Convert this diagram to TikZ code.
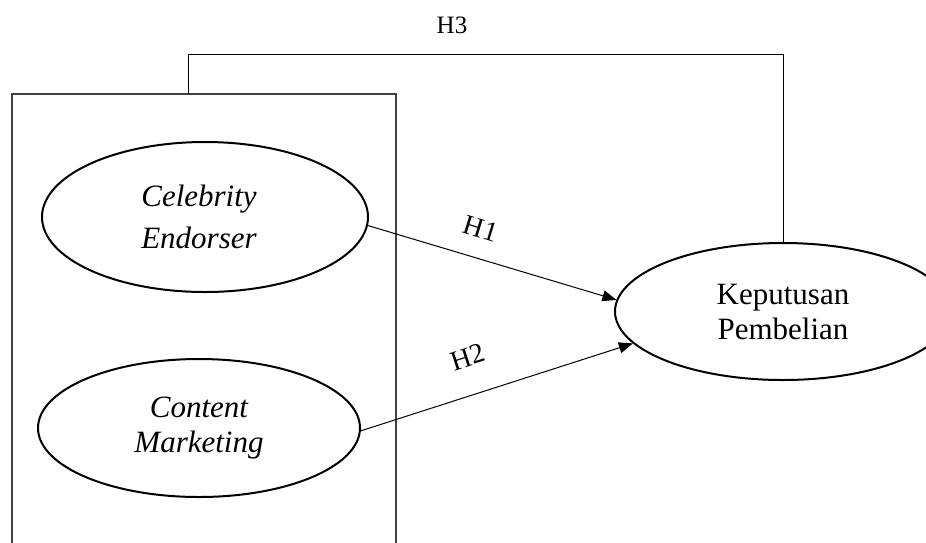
\documentclass[tikz,border=0pt]{standalone}
\usepackage{fontspec}
\setmainfont{Liberation Serif}
\usetikzlibrary{arrows.meta,shapes.geometric}
\begin{document}
\begin{tikzpicture}[x=1pt,y=-1pt,
  var/.style={draw=black,line width=2pt,ellipse,inner sep=0pt,align=center,font=\fontsize{31}{35}\selectfont},
  frame/.style={draw=black!75,line width=1.3pt},
  link/.style={draw=black,line width=1pt},
  arr/.style={link,-{Triangle[length=14pt,width=11pt]}},
  hyp/.style={font=\fontsize{28}{30}\selectfont,inner sep=0pt}]
\useasboundingbox (0,0) rectangle (926,542);
\node[var,minimum width=326,minimum height=150,font=\fontsize{31}{42}\selectfont] (ce) at (205,217) {\itshape Celebrity\hspace*{12pt}\\\itshape Endorser\hspace*{12pt}};
\node[var,minimum width=322,minimum height=138] (cm) at (199,428) {\itshape Content\\\itshape Marketing};
\node[var,minimum width=336,minimum height=137] (kp) at (783,311.5) {Keputusan\\Pembelian};
\draw[frame] (12,560) -- (12,94) -- (396,94) -- (396,560);
\coordinate (b) at (188,94);
\coordinate (c1) at (188,54);
\coordinate (c2) at (783,54);
\draw[link] (b) -- (c1) -- (c2) -- (kp.north);
\node[font=\fontsize{25}{27}\selectfont,inner sep=0pt] (h3) at (452,25) {H3};
\draw[arr] (ce.-3) -- (kp.176);
\draw[arr] (cm.-1) -- (kp.192.4);
\node[hyp,rotate=-17] (h1) at (481,229) {H1};
\node[hyp,rotate=18] (h2) at (468,357) {H2};
\end{tikzpicture}
\end{document}
